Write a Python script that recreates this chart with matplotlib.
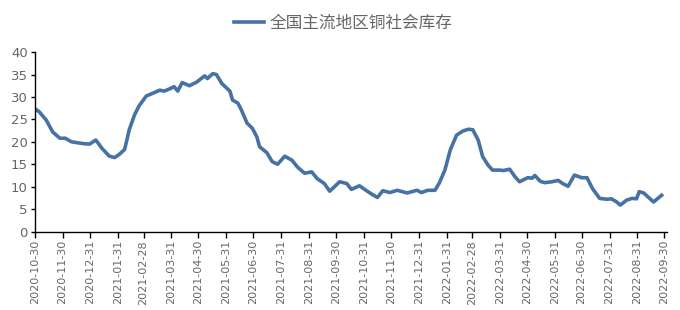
import matplotlib
matplotlib.use("Agg")
import matplotlib.pyplot as plt
import pandas as pd

plt.rcParams["font.family"] = ["DejaVu Sans", "Noto Sans CJK SC"]

SERIES_NAME = "全国主流地区铜社会库存"

dates = [
    "2020-10-30", "2020-11-04", "2020-11-12", "2020-11-19", "2020-11-27",
    "2020-12-03", "2020-12-10", "2020-12-23", "2020-12-30", "2021-01-06",
    "2021-01-13", "2021-01-21", "2021-01-27", "2021-02-01", "2021-02-07",
    "2021-02-12", "2021-02-18", "2021-02-23", "2021-03-03", "2021-03-10",
    "2021-03-18", "2021-03-23", "2021-03-29", "2021-04-03", "2021-04-07",
    "2021-04-12", "2021-04-20", "2021-04-28", "2021-05-07", "2021-05-10",
    "2021-05-16", "2021-05-20", "2021-05-26", "2021-06-04", "2021-06-07",
    "2021-06-13", "2021-06-17", "2021-06-23", "2021-06-29", "2021-07-04",
    "2021-07-07", "2021-07-15", "2021-07-21", "2021-07-27", "2021-08-04",
    "2021-08-12", "2021-08-18", "2021-08-26", "2021-09-03", "2021-09-09",
    "2021-09-17", "2021-09-23", "2021-10-04", "2021-10-12", "2021-10-17",
    "2021-10-26", "2021-11-03", "2021-11-09", "2021-11-15", "2021-11-21",
    "2021-11-29", "2021-12-07", "2021-12-18", "2021-12-29", "2022-01-03",
    "2022-01-10", "2022-01-18", "2022-01-23", "2022-01-29", "2022-02-04",
    "2022-02-11", "2022-02-18", "2022-02-24", "2022-03-01", "2022-03-07",
    "2022-03-12", "2022-03-18", "2022-03-23", "2022-03-31", "2022-04-04",
    "2022-04-11", "2022-04-17", "2022-04-22", "2022-05-01", "2022-05-06",
    "2022-05-09", "2022-05-15", "2022-05-20", "2022-05-28", "2022-06-04",
    "2022-06-09", "2022-06-15", "2022-06-22", "2022-06-30", "2022-07-06",
    "2022-07-12", "2022-07-20", "2022-07-28", "2022-08-02", "2022-08-08",
    "2022-08-12", "2022-08-19", "2022-08-25", "2022-08-30", "2022-09-02",
    "2022-09-07", "2022-09-13", "2022-09-18", "2022-09-27",
]

stock = [
    27.4, 26.7, 24.8, 22.2, 20.8,
    20.8, 20.0, 19.6, 19.5, 20.4,
    18.5, 16.8, 16.5, 17.2, 18.3,
    22.6, 26.0, 28.0, 30.2, 30.8,
    31.5, 31.3, 31.8, 32.3, 31.3,
    33.2, 32.5, 33.3, 34.7, 34.1,
    35.2, 35.0, 33.0, 31.3, 29.3,
    28.6, 27.0, 24.2, 23.0, 21.1,
    18.9, 17.6, 15.6, 15.0, 16.8,
    15.9, 14.4, 13.0, 13.3, 11.8,
    10.7, 9.0, 11.1, 10.7, 9.4,
    10.2, 9.1, 8.3, 7.6, 9.1,
    8.7, 9.2, 8.6, 9.2, 8.7,
    9.2, 9.2, 10.9, 13.7, 18.2,
    21.5, 22.4, 22.8, 22.7, 20.4,
    16.7, 14.8, 13.7, 13.7, 13.6,
    13.9, 12.2, 11.1, 12.0, 11.9,
    12.5, 11.2, 10.9, 11.1, 11.4,
    10.7, 10.1, 12.6, 12.0, 12.0,
    9.6, 7.4, 7.2, 7.3, 6.6,
    5.9, 7.0, 7.4, 7.3, 8.9,
    8.6, 7.5, 6.6, 8.1,
]

tick_labels = [
    "2020-10-30", "2020-11-30", "2020-12-31", "2021-01-31", "2021-02-28",
    "2021-03-31", "2021-04-30", "2021-05-31", "2021-06-30", "2021-07-31",
    "2021-08-31", "2021-09-30", "2021-10-31", "2021-11-30", "2021-12-31",
    "2022-01-31", "2022-02-28", "2022-03-31", "2022-04-30", "2022-05-31",
    "2022-06-30", "2022-07-31", "2022-08-31", "2022-09-30",
]

y_ticks = [0, 5, 10, 15, 20, 25, 30, 35, 40]

LINE_COLOR = "#4672a4"
TEXT_COLOR = "#666666"

x = pd.to_datetime(dates)
tick_pos = pd.to_datetime(tick_labels)

fig = plt.figure(figsize=(6.8, 3.1), dpi=100)
ax = fig.add_axes([0.051, 0.253, 0.930, 0.579])

ax.plot(x, stock, color=LINE_COLOR, linewidth=2.6, solid_joinstyle="round",
        label=SERIES_NAME)

ax.set_ylim(0, 40)
ax.set_yticks(y_ticks)
ax.set_xlim(tick_pos[0], pd.Timestamp("2022-10-03"))
ax.set_xticks(tick_pos)
ax.set_xticklabels(tick_labels, rotation=90)

for side in ("top", "right"):
    ax.spines[side].set_visible(False)
for side in ("left", "bottom"):
    ax.spines[side].set_color("black")
    ax.spines[side].set_linewidth(1.0)

ax.tick_params(axis="y", labelsize=9.5, colors="black", labelcolor=TEXT_COLOR,
               length=3, width=1, pad=2)
ax.tick_params(axis="x", labelsize=8, colors="black", labelcolor=TEXT_COLOR,
               length=4, width=1, pad=2)

leg = fig.legend(loc="upper center", bbox_to_anchor=(0.505, 1.0), frameon=False,
                 handlelength=1.8, handletextpad=0.3,
                 prop={"family": ["Noto Sans CJK SC", "DejaVu Sans"], "size": 12})
for t in leg.get_texts():
    t.set_color(TEXT_COLOR)

fig.savefig("out.png", dpi=100)
